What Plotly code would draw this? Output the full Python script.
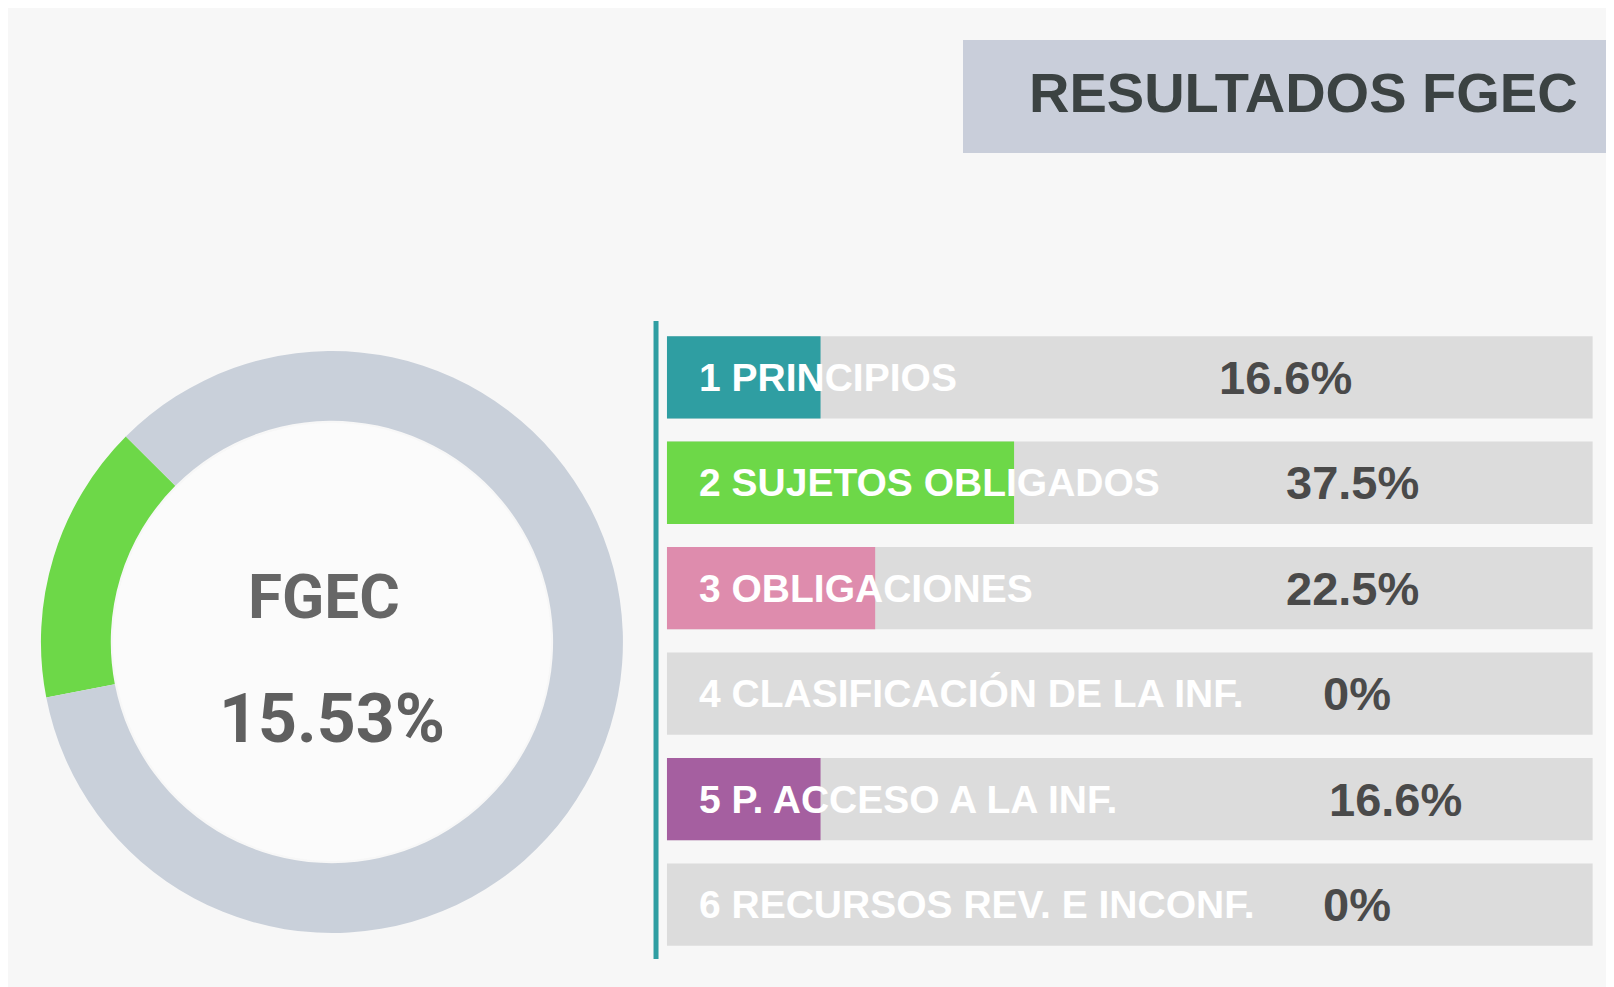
import plotly.graph_objects as go

# datos
categorias = ["1 PRINCIPIOS", "2 SUJETOS OBLIGADOS", "3 OBLIGACIONES",
              "4 CLASIFICACIÓN DE LA INF.", "5 P. ACCESO A LA INF.",
              "6 RECURSOS REV. E INCONF."]
valores = [16.6, 37.5, 22.5, 0, 16.6, 0]
etiquetas_valor = ["16.6%", "37.5%", "22.5%", "0%", "16.6%", "0%"]
total_fgec = 15.53
titulo = "RESULTADOS FGEC"
nombre = "FGEC"

colores = ["#2f9ea2", "#6dd848", "#de8cad", "#dcdcdc", "#a55fa0", "#dcdcdc"]
gris_barra = "#dcdcdc"
gris_dona = "#c9d0da"
verde = "#6dd848"
fondo = "#f7f7f7"

# pequeños ajustes horizontales de los porcentajes (px)
nudge = [-67, 0, 0, 5, 43, 5]

FONT = "Liberation Sans, Arial, sans-serif"
ROBOTO = "Roboto, Arial, sans-serif"

fig = go.Figure()

fig.add_trace(go.Pie(
    values=[total_fgec, 100 - total_fgec],
    marker=dict(colors=[verde, gris_dona], line=dict(width=0)),
    hole=0.76,
    sort=False,
    direction="clockwise",
    rotation=259,
    textinfo="none",
    hoverinfo="skip",
    domain=dict(x=[0.0204, 0.3810], y=[0.0628, 0.6525]),
    showlegend=False,
))

fig.add_trace(go.Bar(
    y=categorias, x=[100] * len(categorias), orientation="h",
    marker=dict(color=gris_barra, line=dict(width=0)),
    hoverinfo="skip", showlegend=False,
))
fig.add_trace(go.Bar(
    y=categorias, x=valores, orientation="h",
    marker=dict(color=colores, line=dict(width=0)),
    showlegend=False,
))

annotations = []
for i, cat in enumerate(categorias):
    annotations.append(dict(
        x=0, y=cat, xref="x", yref="y", text=cat, showarrow=False,
        xanchor="left", yanchor="middle", xshift=30,
        font=dict(family=FONT, size=39, color="white", weight="bold"),
    ))
    annotations.append(dict(
        x=74, y=cat, xref="x", yref="y", text=etiquetas_valor[i], showarrow=False,
        xanchor="center", yanchor="middle", xshift=nudge[i],
        font=dict(family=FONT, size=47, color="#4a4a4a", weight="bold"),
    ))

annotations += [
    dict(x=316 / 1614, y=1 - 588 / 987, xref="paper", yref="paper", text=nombre,
         showarrow=False, xanchor="center", yanchor="middle",
         font=dict(family=ROBOTO, size=62, color="#666666", weight="bold")),
    dict(x=324 / 1614, y=1 - 711 / 987, xref="paper", yref="paper",
         text=f"{total_fgec:.2f}%", showarrow=False, xanchor="center", yanchor="middle",
         font=dict(family=ROBOTO, size=68, color="#5f5f5f", weight="bold")),
    dict(x=0.974, y=1 - 84 / 987, xref="paper", yref="paper", text=titulo,
         showarrow=False, xanchor="right", yanchor="middle",
         font=dict(family=FONT, size=56, color="#3b4242", weight="bold")),
]

shapes = [
    dict(type="rect", xref="paper", yref="paper", x0=0.5917, x1=0.9963,
         y0=1 - 145 / 987, y1=1 - 32 / 987, fillcolor="#c9ceda", line=dict(width=0),
         layer="below"),
    dict(type="line", xref="paper", yref="paper", x0=0.4015, x1=0.4015,
         y0=1 - 951 / 987, y1=1 - 313 / 987, line=dict(color="#2f9ea2", width=5)),
    # interior de la dona, un poco más claro que el fondo
    dict(type="circle", xref="paper", yref="paper",
         x0=(324 - 219) / 1614, x1=(324 + 219) / 1614,
         y0=1 - (634 + 219) / 987, y1=1 - (634 - 219) / 987,
         fillcolor="#fbfbfb", line=dict(width=0), layer="below"),
]

fig.update_layout(
    width=1614, height=987,
    margin=dict(l=0, r=0, t=0, b=0),
    paper_bgcolor=fondo, plot_bgcolor="rgba(0,0,0,0)",
    barmode="overlay", bargap=0.22,
    xaxis=dict(domain=[0.4082, 0.9819], range=[0, 100], visible=False, fixedrange=True),
    yaxis=dict(domain=[0.0381, 0.6793], autorange="reversed", visible=False,
               fixedrange=True),
    annotations=annotations,
    shapes=shapes,
)

fig.write_html("out.html")
